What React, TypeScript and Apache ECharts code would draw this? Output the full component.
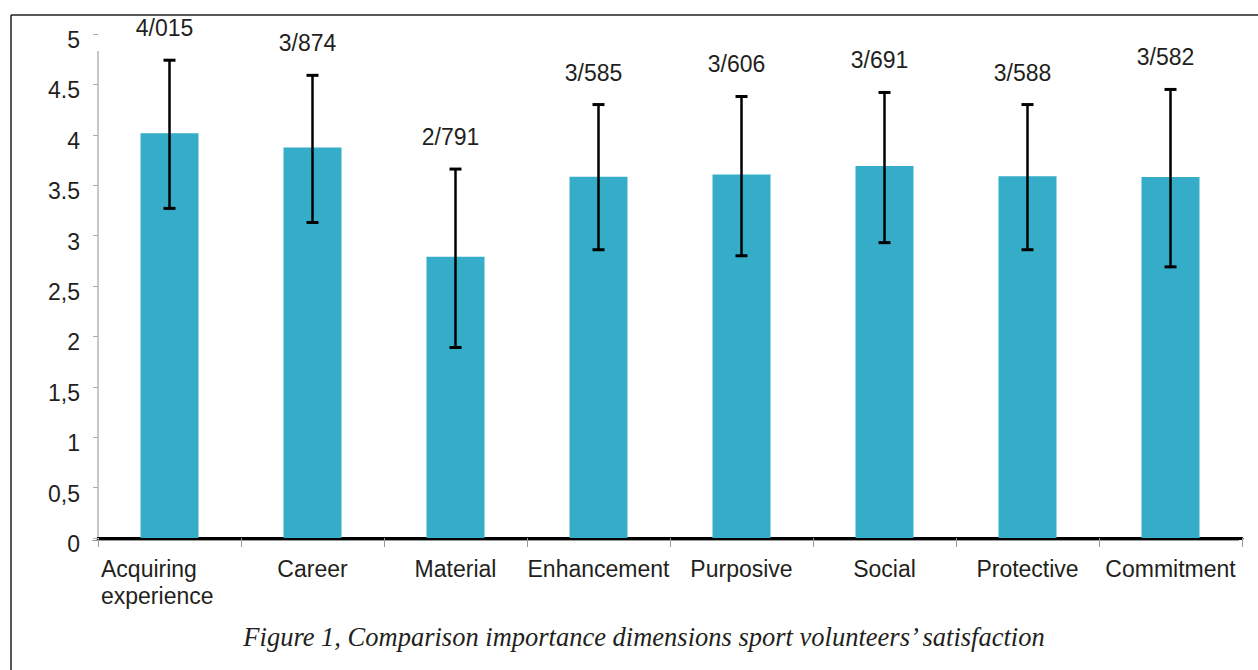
import React, { useEffect, useRef } from "react";
import * as echarts from "echarts";

const categories = [
  "Acquiring\nexperience",
  "Career",
  "Material",
  "Enhancement",
  "Purposive",
  "Social",
  "Protective",
  "Commitment",
];
const means = [4.015, 3.874, 2.791, 3.585, 3.606, 3.691, 3.588, 3.582];
const errLow = [3.27, 3.13, 1.89, 2.86, 2.8, 2.93, 2.86, 2.69];
const errHigh = [4.74, 4.59, 3.66, 4.3, 4.38, 4.42, 4.3, 4.45];
const yTickLabels: Record<string, string> = {
  "0": "0",
  "0.5": "0,5",
  "1": "1",
  "1.5": "1,5",
  "2": "2",
  "2.5": "2,5",
  "3": "3",
  "3.5": "3.5",
  "4": "4",
  "4.5": "4.5",
  "5": "5",
};
const caption =
  "Figure 1, Comparison importance dimensions sport volunteers\u2019 satisfaction";

const FONT = "'Liberation Sans', Arial, sans-serif";
const TEXT = "#231f20";
const BAR = "#35adc8";

export default function App() {
  const ref = useRef<HTMLDivElement>(null);
  useEffect(() => {
    if (!ref.current) return;
    const chart = echarts.init(ref.current, undefined, { renderer: "svg" });
    const errData = categories.map((_, i) => [
      i,
      errLow[i],
      errHigh[i],
      means[i].toFixed(3).replace(".", "/"),
    ]);
    chart.setOption({
      animation: false,
      backgroundColor: "#ffffff",
      grid: { left: 98, right: 16, top: 34, bottom: 132 },
      xAxis: {
        type: "category",
        data: categories,
        axisLine: { show: true, lineStyle: { color: "#000", width: 3 } },
        axisTick: {
          show: true,
          length: 9,
          inside: false,
          lineStyle: { color: "#999", width: 1 },
        },
        axisLabel: {
          margin: 17,
          fontFamily: FONT,
          fontSize: 23,
          color: TEXT,
          lineHeight: 27,
          interval: 0,
          formatter: (v: string) =>
            v.includes("\n")
              ? v
                  .split("\n")
                  .map((s) => `{l|${s}}`)
                  .join("\n")
              : v,
          rich: {
            l: {
              width: 137,
              align: "left",
              fontFamily: FONT,
              fontSize: 23,
              color: TEXT,
              lineHeight: 27,
            },
          },
        },
      },
      yAxis: {
        type: "value",
        min: 0,
        max: 5,
        interval: 0.5,
        splitLine: { show: false },
        axisLine: { show: false },
        axisTick: {
          show: true,
          length: 5,
          lineStyle: { color: "#aaa", width: 1 },
        },
        axisLabel: {
          margin: 18,
          fontFamily: FONT,
          fontSize: 23,
          color: TEXT,
          verticalAlign: "top",
          lineHeight: 12,
          formatter: (v: number) => yTickLabels[String(v)] ?? String(v),
        },
      },
      series: [
        {
          type: "bar",
          data: means,
          barWidth: 58,
          itemStyle: { color: BAR },
          z: 2,
        },
        {
          type: "custom",
          data: errData,
          z: 5,
          renderItem: (params: any, api: any) => {
            const x = api.value(0);
            const lo = api.coord([x, api.value(1)]);
            const hi = api.coord([x, api.value(2)]);
            const label = errData[params.dataIndex][3] as string;
            const cap = 6;
            const st = { stroke: "#000", lineWidth: 2.5 };
            return {
              type: "group",
              children: [
                { type: "line", shape: { x1: lo[0], y1: lo[1], x2: hi[0], y2: hi[1] }, style: st },
                { type: "line", shape: { x1: hi[0] - cap, y1: hi[1], x2: hi[0] + cap, y2: hi[1] }, style: { stroke: "#000", lineWidth: 3 } },
                { type: "line", shape: { x1: lo[0] - cap, y1: lo[1], x2: lo[0] + cap, y2: lo[1] }, style: { stroke: "#000", lineWidth: 3 } },
                {
                  type: "text",
                  x: hi[0] - 5,
                  y: hi[1] - 32,
                  style: {
                    text: label,
                    fontFamily: FONT,
                    fontSize: 23,
                    fill: TEXT,
                    align: "center",
                    verticalAlign: "middle",
                  },
                },
              ],
            };
          },
        },
      ],
      graphic: [
        { type: "line", shape: { x1: 11, y1: 15, x2: 1258, y2: 15 }, style: { stroke: "#222", lineWidth: 1.5 } },
        { type: "line", shape: { x1: 11, y1: 15, x2: 11, y2: 670 }, style: { stroke: "#222", lineWidth: 1.5 } },
        { type: "line", shape: { x1: 98, y1: 51, x2: 98, y2: 538 }, style: { stroke: "#b5b5b5", lineWidth: 1.5 } },
        { type: "line", shape: { x1: 92, y1: 540.5, x2: 1239, y2: 540.5 }, style: { stroke: "#999", lineWidth: 1 } },
        {
          type: "text",
          x: 644,
          y: 637,
          style: {
            text: caption,
            fontFamily: "'Liberation Serif', 'Times New Roman', serif",
            fontStyle: "italic",
            fontSize: 26.5,
            fill: TEXT,
            align: "center",
            verticalAlign: "middle",
          },
        },
      ],
    });
    return () => chart.dispose();
  }, []);
  return (
    <div
      ref={ref}
      style={{ position: "absolute", left: 0, top: 0, width: 1258, height: 670 }}
    />
  );
}
